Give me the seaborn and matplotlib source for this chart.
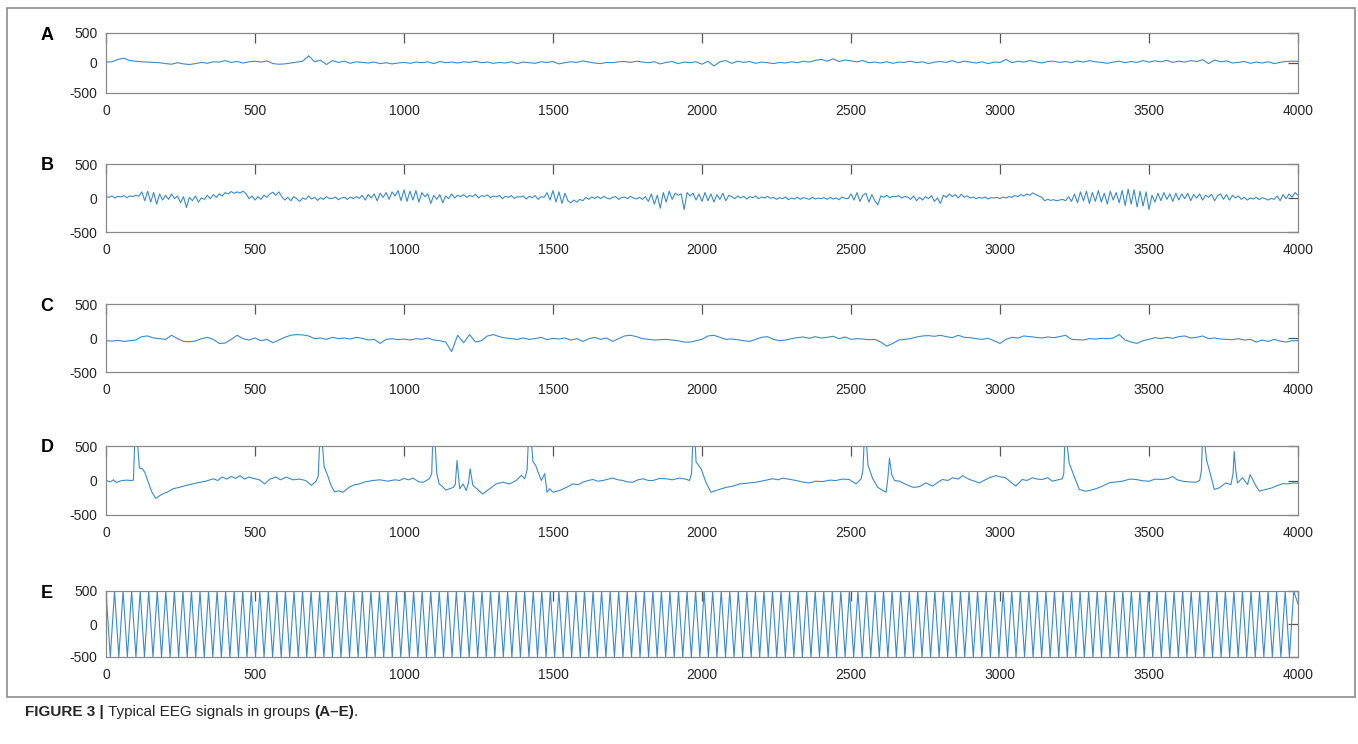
import numpy as np
import pandas as pd
import matplotlib
matplotlib.use("Agg")
import matplotlib.pyplot as plt
import seaborn as sns
from matplotlib.patches import Rectangle

# ---------------- data ----------------
panel_letters = ["A", "B", "C", "D", "E"]
x_ticks = [0, 500, 1000, 1500, 2000, 2500, 3000, 3500, 4000]
y_ticks = [-500, 0, 500]

# Group A: sampled every 20 samples
a_step = 20
a_vals = [
    15, 20, 60, 80, 40, 30, 20, 15, 10, 5,
    -10, -20, 5, -15, -25, -10, 10, -5, 20, 15,
    40, 10, 25, 0, 20, 30, 15, 35, -10, -20,
    -15, 0, 15, 30, 120, 20, 45, -25, 40, 10,
    30, -5, 20, 10, 0, 15, -10, 5, -15, 0,
    10, -5, 15, 5, 20, -10, 25, 5, 15, 0,
    20, 10, 30, 5, 15, -5, 10, 0, 20, -10,
    15, 5, -5, 20, 10, 25, -15, 5, 20, 10,
    35, 15, 0, -10, 10, 5, 20, 25, 10, 30,
    15, 5, 20, -15, 10, 25, -10, 15, 5, 20,
    -20, 30, -50, 20, 40, -5, 30, 10, 25, -5,
    15, 5, -10, 10, 0, 20, 5, 30, 15, 45,
    60, 30, 70, 25, 50, 35, 20, 40, 5, 15,
    0, 20, -5, 15, 10, 30, 5, 20, -10, 15,
    25, 10, 40, 5, 30, 15, 0, 20, -10, 15,
    10, 60, 5, 30, 15, 40, 20, 0, 25, 30,
    10, 25, 5, 35, 15, 40, 20, 10, -5, 15,
    30, 5, 25, 10, 40, 15, 35, 20, 45, 10,
    30, 15, 40, 25, 55, -10, 50, 20, 35, 0,
    10, 25, -5, 15, 0, 20, -10, 10, 25, 30,
    30,
]

# Group B: sampled every 10 samples
b_step = 10
b_vals = [
    20, 10, 30, 0, 25, 15, 35, 5, 30, 20, 40, 25, 90, -40, 100, -60, 80, -90, 60, -30,
    40, -20, 60, -10, 30, -70, 20, -140, 10, -40, 30, -60, 0, -20, 40, -10, 50, 10, 60, 30,
    80, 60, 95, 70, 90, 75, 100, 65, -10, 30, -30, 20, -20, 40, 10, 60, 85, 40, 90, 20,
    -30, 10, -40, 20, -10, -50, 0, -20, 30, -15, 10, -35, 5, -20, 20, -10, -5, 15, -25, 0,
    10, -20, 15, -10, 20, -5, 40, -30, 50, 0, 60, -40, 70, 10, 80, -20, 90, 30, 110, -40,
    120, -50, 100, -30, 110, -60, 80, 20, 60, -80, 40, -20, 50, -70, 30, -10, 60, 0, 40, 20,
    50, 10, 40, 20, 55, 0, 35, 25, 45, 5, 30, 15, 40, -10, 25, 10, 35, -5, 20, 15,
    30, -15, 25, 5, 35, -20, 20, 10, 80, -30, 110, -60, 90, -80, 70, -40, -70, -30, -60, -20,
    -40, 10, -20, 15, -5, 20, -10, 25, 0, -15, 10, 20, -20, 5, 15, -10, 25, 0, -15, 10,
    -20, 20, -50, 60, -90, 40, -150, 80, -60, 100, -20, 70, 40, 60, -170, 80, 30, 70, -30, 60,
    -50, 80, -40, 60, -60, 50, -20, 70, -40, 40, 20, -10, 30, 0, 25, -15, 20, 5, 30, -10,
    15, 0, 25, -5, 10, -20, 5, -10, 15, -25, 0, -15, 10, -20, 5, -5, -20, 10, -15, 0,
    -10, 5, -20, 10, -15, 0, -25, 15, -5, -10, 60, -30, 80, -50, 40, 70, -60, 50, -40, -100,
    30, 10, 40, 5, 25, 20, 35, 0, 20, 15, -20, 30, -40, 10, -30, 20, -10, 35, -50, 0,
    -80, 40, 10, 60, 20, 50, 0, 55, 10, 30, 0, 15, -10, 10, -5, 15, -15, 5, 0, 10,
    -10, 15, 0, 20, 10, 35, 20, 50, 30, 60, 40, 75, 50, 30, 10, -40, -20, -35, -25, -40,
    -30, -20, -40, 20, -50, 60, -70, 90, -40, 100, -80, 80, -50, 110, -60, 70, -90, 100, -30, 80,
    -70, 110, -110, 130, -90, 120, -130, 100, -120, 90, -170, 40, -60, 70, -40, 80, -20, 60, -50, 70,
    -30, 60, -10, 70, -40, 50, 0, 60, -30, 40, 10, 55, -40, 30, 60, -20, 50, -30, 40, 0,
    30, -20, 10, -30, 0, -15, 10, -25, 5, -10, -30, -5, -20, 30, -40, 50, -10, 60, 10, 80,
    40,
]

# Group C: sampled every 20 samples
c_step = 20
c_vals = [
    -40, -45, -35, -50, -40, -30, 20, 30, 0, -10,
    -20, 40, -10, -50, -55, -45, -10, 10, -20, -80,
    -75, -20, 40, -10, -30, 0, -40, -20, -70, -30,
    10, 40, 50, 45, 30, -10, 0, -20, 10, -10,
    0, -15, 10, -5, -30, -20, -80, -20, -10, -25,
    -15, -30, -10, -20, 0, -30, -40, -60, -200, 40,
    -70, 50, -60, -40, 30, 50, 20, 0, -10, -20,
    0, -20, -10, 10, -25, -5, -15, 0, -30, -10,
    -50, -10, 10, -20, 0, -50, -10, 30, 40, 20,
    -10, -20, -30, -25, -20, -30, -40, -60, -60, -40,
    -20, 30, 40, 10, -20, -15, -25, -40, -50, -20,
    10, 20, -20, -40, -30, -10, 5, 15, -5, 20,
    0, 10, 25, -10, 15, -20, -10, -15, -25, -20,
    -60, -120, -80, -30, -20, -10, 15, 30, 35, 25,
    40, 20, 5, 40, 10, 5, -10, -20, -5, -40,
    -80, -20, 10, 0, 30, 20, 10, 0, 15, 5,
    20, 40, -20, -25, -30, -10, -15, -5, -10, 0,
    50, -30, -60, -80, -40, -20, 5, -10, 10, -5,
    20, 30, 0, 10, 30, -10, 0, -15, -20, -25,
    -10, -30, -20, -60, -30, -50, -20, -45, -60, -40,
    -40,
]

# Group D: (sample, value) points
d_t = [0, 15, 25, 35, 45, 55, 70, 85, 92, 97, 104, 112, 122, 130, 142, 153, 167, 180, 192, 205,
       225, 245, 270, 290, 315, 335, 360, 375, 390, 405, 420, 435, 450, 465, 480, 495, 515, 532, 550, 571,
       585, 605, 627, 650, 670, 689, 705, 712, 718, 724, 732, 744, 755, 767, 780, 795, 817, 835, 850, 870,
       895, 920, 945, 970, 985, 1000, 1015, 1030, 1050, 1065, 1085, 1093, 1097, 1103, 1110, 1118, 1130, 1140, 1153, 1165,
       1172, 1178, 1187, 1198, 1209, 1216, 1222, 1231, 1242, 1264, 1287, 1309, 1332, 1354, 1377, 1394, 1405, 1413, 1418, 1425,
       1433, 1442, 1450, 1461, 1472, 1480, 1489, 1500, 1522, 1545, 1567, 1585, 1600, 1618, 1634, 1650, 1668, 1685, 1701, 1718,
       1735, 1750, 1768, 1785, 1802, 1820, 1835, 1858, 1880, 1900, 1925, 1945, 1958, 1965, 1970, 1976, 1980, 1997, 2013, 2030,
       2047, 2065, 2081, 2105, 2126, 2150, 2181, 2210, 2237, 2255, 2271, 2290, 2316, 2335, 2360, 2380, 2405, 2430, 2450, 2470,
       2494, 2517, 2534, 2540, 2545, 2550, 2557, 2573, 2590, 2607, 2618, 2624, 2629, 2637, 2646, 2663, 2691, 2710, 2729, 2751,
       2774, 2790, 2807, 2825, 2841, 2860, 2874, 2897, 2915, 2930, 2950, 2964, 2986, 3005, 3019, 3035, 3053, 3075, 3090, 3109,
       3125, 3142, 3160, 3176, 3195, 3209, 3214, 3218, 3222, 3232, 3249, 3266, 3288, 3305, 3321, 3345, 3366, 3390, 3411, 3435,
       3456, 3480, 3501, 3520, 3545, 3565, 3579, 3595, 3612, 3635, 3657, 3670, 3676, 3680, 3685, 3693, 3708, 3719, 3736, 3758,
       3775, 3782, 3786, 3791, 3797, 3814, 3831, 3839, 3848, 3859, 3870, 3893, 3910, 3927, 3949, 3965, 3983, 4000]
d_v = [0, -20, 10, -30, -10, 0, 5, 0, 5, 650, 650, 180, 170, 120, -25, -160, -260, -220, -190, -170,
       -120, -100, -70, -50, -25, -10, 25, 0, 50, 20, 60, 30, 70, 20, 50, 30, 10, -50, 20, 50,
       10, 50, 10, 20, 0, -70, -10, 60, 650, 650, 200, 70, -70, -165, -150, -170, -95, -60, -50, -20,
       0, 10, -10, 10, 0, 30, 10, 35, -20, -25, 25, 100, 650, 650, 100, -50, -90, -140, -120, -100,
       -60, 290, -120, -50, -145, -40, 170, -70, -110, -195, -120, -50, -25, -50, 0, 75, 25, 150, 650, 650,
       270, 220, 120, 0, 100, -170, -120, -170, -145, -100, -50, -60, -25, 0, 15, -10, 0, 20, 35, 10,
       0, -20, -25, 10, 25, 0, 0, 30, 25, 10, 35, 20, 0, 100, 650, 650, 270, 170, -25, -170,
       -145, -120, -100, -80, -50, -40, -25, 0, 25, 10, 35, 20, 0, -20, -35, -10, -15, 5, 0, 20,
       15, -50, 25, 150, 650, 650, 220, 25, -100, -145, -170, 50, 320, 80, 0, -10, -70, -100, -90, -35,
       -80, -30, 15, 0, 40, 20, 70, 15, -10, -35, 10, 40, 70, 50, 40, -20, -80, 15, 0, 40,
       20, 15, 40, -10, 10, 25, 100, 650, 650, 255, 60, -130, -155, -140, -120, -80, -35, -20, -10, 20,
       15, -5, -10, 20, 15, 30, 60, 10, -10, -20, -25, 0, 150, 650, 650, 300, 60, -130, -105, -35,
       -60, 100, 420, 150, -35, 40, -60, 85, 15, -80, -155, -130, -110, -80, -45, -50, -35, -40]

# Group E: successive extremes of the saturated oscillation
e_vals = [
    500, -500, 500, -500, 500, -500, 500, -500, 500, -500, 500, -500, 500, -500, 500, -500, 500, -500, 500, -500,
    500, -500, 500, -500, 500, -500, 500, -500, 500, -500, 500, -500, 500, -500, 500, -500, 500, -500, 500, -500,
    500, -500, 500, -500, 500, -500, 500, -500, 500, -500, 500, -500, 500, -500, 500, -500, 500, -500, 500, -500,
    500, -500, 500, -500, 500, -500, 500, -500, 500, -500, 500, -500, 500, -500, 500, -500, 500, -500, 500, -500,
    500, -500, 500, -500, 500, -500, 500, -500, 500, -500, 500, -500, 500, -500, 500, -500, 500, -500, 500, -500,
    500, -500, 500, -500, 500, -500, 500, -500, 500, -500, 500, -500, 500, -500, 500, -500, 500, -500, 500, -500,
    500, -500, 500, -500, 500, -500, 500, -500, 500, -500, 500, -500, 500, -500, 500, -500, 500, -500, 500, -500,
    500, -500, 500, -500, 500, -500, 500, -500, 500, -500, 500, -500, 500, -500, 500, -500, 500, -500, 500, -500,
    500, -500, 500, -500, 500, -500, 500, -500, 500, -500, 500, -500, 500, -500, 500, -500, 500, -500, 500, -500,
    500, -500, 500, -500, 500, -500, 500, -500, 500, -500, 500, -500, 500, -500, 500, -500, 500, -500, 500, -500,
    500, -500, 500, -500, 500, -500, 500, -500, 500, -500, 500, -500, 500, -500, 500, -500, 500, -500, 500, -500,
    500, -500, 500, -500, 500, -500, 500, -500, 500, -500, 500, -500, 500, -500, 500, -500, 500, -500, 500, -500,
    500, -500, 500, -500, 500, -500, 500, -500, 500, -500, 500, -500, 500, -500, 500, -500, 500, -500, 500, -500,
    500, -500, 500, -500, 500, -500, 500, -500, 500, -500, 500, -500, 500, -500, 500, -500, 500, -500, 500, 300,
]

caption_bold = "FIGURE 3 |"
caption_text = " Typical EEG signals in groups "
caption_bold2 = "(A–E)"

# ---------------- figure ----------------
sns.set_theme(style="white")
plt.rcParams["font.family"] = ["Liberation Sans", "DejaVu Sans"]
plt.rcParams["axes.unicode_minus"] = False

W, H = 1358, 744
fig = plt.figure(figsize=(W / 100, H / 100), dpi=100)

series = [
    (np.arange(len(a_vals)) * a_step, a_vals),
    (np.arange(len(b_vals)) * b_step, b_vals),
    (np.arange(len(c_vals)) * c_step, c_vals),
    (np.array(d_t), d_v),
    (np.linspace(0, 4000, len(e_vals)), e_vals),
]
# axes boxes in pixels (top, bottom)
boxes = [(33, 93), (164, 232), (304, 372), (446, 515), (591, 657)]
left_px, right_px = 106, 1298
line_color = "#3a8bcb"

for letter, (xs, ys), (top, bot) in zip(panel_letters, series, boxes):
    ax = fig.add_axes([left_px / W, 1 - bot / H, (right_px - left_px) / W, (bot - top) / H])
    df = pd.DataFrame({"sample": xs, "value": ys})
    sns.lineplot(data=df, x="sample", y="value", ax=ax, color=line_color,
                 linewidth=0.8, estimator=None, sort=False)
    ax.set_xlim(0, 4000)
    ax.set_ylim(-500, 500)
    ax.set_xticks(x_ticks)
    ax.set_yticks(y_ticks)
    ax.set_xticklabels([str(t) for t in x_ticks])
    ax.set_yticklabels([str(t) for t in y_ticks])
    ax.set_xlabel("")
    ax.set_ylabel("")
    for s in ax.spines.values():
        s.set_color("#8a8a8a")
        s.set_linewidth(0.9)
        s.set_visible(True)
    ax.tick_params(axis="both", direction="in", length=7, width=0.9, colors="#555555",
                   top=True, right=True, labelsize=10, labelcolor="#262626")
    ax.tick_params(axis="x", pad=8)
    ax.tick_params(axis="y", pad=6)
    ax.set_facecolor("white")
    fig.text(47 / W, 1 - (top + 2) / H, letter, fontsize=13, fontweight="bold",
             ha="center", va="center", color="black")

# outer frame
fig.patches.append(Rectangle((7 / W, 1 - 697 / H), (1355 - 7) / W, (697 - 8) / H,
                             transform=fig.transFigure, fill=False,
                             edgecolor="#8c8c8c", linewidth=1.2))

# caption
y_cap = 1 - 712 / H
t1 = fig.text(25 / W, y_cap, caption_bold, fontsize=11, fontweight="bold", va="center", ha="left")
fig.canvas.draw()
bb = t1.get_window_extent()
t2 = fig.text(bb.x1 / W, y_cap, caption_text, fontsize=11, va="center", ha="left")
fig.canvas.draw()
bb2 = t2.get_window_extent()
t3 = fig.text(bb2.x1 / W, y_cap, caption_bold2, fontsize=11, fontweight="bold", va="center", ha="left")
fig.canvas.draw()
bb3 = t3.get_window_extent()
fig.text(bb3.x1 / W, y_cap, ".", fontsize=11, va="center", ha="left")

fig.savefig("out.png", dpi=100)
